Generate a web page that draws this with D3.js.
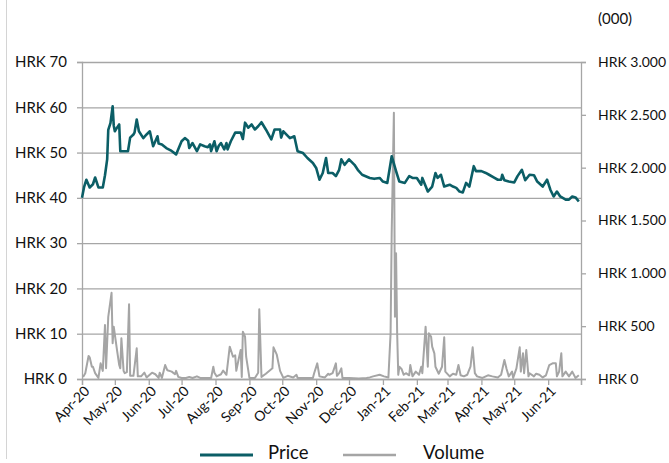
<!DOCTYPE html>
<html>
<head>
<meta charset="utf-8">
<script src="https://cdn.jsdelivr.net/npm/d3@7"></script>
<style>
  body { margin: 0; background: #fff; }
  text { font-family: Lato, "Open Sans", sans-serif; fill: #111; }
</style>
</head>
<body>
<div id="chart"></div>
<script>
// Plot constants
const WIDTH = 669;
const HEIGHT = 463;
const LEFT = 82, RIGHT = 581, TOP = 62, BOTTOM = 379;

// Axis ticks
const priceTicks = [0, 10, 20, 30, 40, 50, 60, 70];
const volumeTicks = [0, 500, 1000, 1500, 2000, 2500, 3000];
const legendLabels = ["Price", "Volume"];

// Share price, HRK
const price = [
  ["2020-04-01", 40.0], ["2020-04-03", 42.5], ["2020-04-05", 44.0], ["2020-04-08", 42.3],
  ["2020-04-11", 43.0], ["2020-04-13", 44.5], ["2020-04-16", 42.3], ["2020-04-20", 42.3],
  ["2020-04-22", 45.0], ["2020-04-24", 48.5], ["2020-04-25", 55.0], ["2020-04-27", 56.5],
  ["2020-04-29", 60.2], ["2020-04-30", 56.0], ["2020-05-01", 54.7], ["2020-05-03", 55.5],
  ["2020-05-05", 56.2], ["2020-05-06", 50.3], ["2020-05-09", 50.3], ["2020-05-13", 50.3],
  ["2020-05-15", 53.3], ["2020-05-18", 54.0], ["2020-05-19", 54.4], ["2020-05-21", 57.3],
  ["2020-05-23", 54.7], ["2020-05-27", 53.2], ["2020-05-30", 54.0], ["2020-06-02", 54.7],
  ["2020-06-05", 51.4], ["2020-06-07", 52.5], ["2020-06-09", 53.6], ["2020-06-10", 52.0],
  ["2020-06-13", 51.8], ["2020-06-17", 51.0], ["2020-06-21", 50.5], ["2020-06-26", 49.6],
  ["2020-07-01", 52.5], ["2020-07-04", 53.2], ["2020-07-07", 52.6], ["2020-07-08", 51.0],
  ["2020-07-11", 52.1], ["2020-07-15", 50.3], ["2020-07-18", 51.8], ["2020-07-22", 51.4],
  ["2020-07-25", 51.2], ["2020-07-27", 51.8], ["2020-07-28", 50.3], ["2020-07-31", 52.5],
  ["2020-08-02", 50.3], ["2020-08-04", 51.5], ["2020-08-06", 52.1], ["2020-08-09", 50.7],
  ["2020-08-11", 52.1], ["2020-08-12", 50.7], ["2020-08-15", 52.5], ["2020-08-19", 54.4],
  ["2020-08-24", 54.4], ["2020-08-26", 53.0], ["2020-08-28", 56.6], ["2020-08-31", 55.5],
  ["2020-09-03", 56.2], ["2020-09-06", 55.1], ["2020-09-09", 55.8], ["2020-09-12", 56.7],
  ["2020-09-16", 55.1], ["2020-09-21", 52.9], ["2020-09-24", 55.1], ["2020-09-29", 55.1],
  ["2020-09-30", 53.3], ["2020-10-02", 54.7], ["2020-10-08", 53.2], ["2020-10-12", 53.6],
  ["2020-10-15", 50.3], ["2020-10-20", 49.9], ["2020-10-24", 48.8], ["2020-10-29", 47.7],
  ["2020-11-01", 46.6], ["2020-11-04", 44.0], ["2020-11-07", 45.5], ["2020-11-10", 48.8],
  ["2020-11-12", 45.5], ["2020-11-16", 45.5], ["2020-11-19", 44.8], ["2020-11-22", 46.2],
  ["2020-11-24", 48.5], ["2020-11-27", 47.3], ["2020-12-01", 48.5], ["2020-12-06", 47.3],
  ["2020-12-09", 46.2], ["2020-12-13", 45.1], ["2020-12-20", 44.4], ["2020-12-24", 44.2],
  ["2020-12-29", 44.4], ["2021-01-01", 43.6], ["2021-01-05", 43.3], ["2021-01-08", 47.7],
  ["2021-01-09", 49.2], ["2021-01-13", 45.9], ["2021-01-16", 43.6], ["2021-01-21", 43.3],
  ["2021-01-25", 44.8], ["2021-01-28", 44.4], ["2021-02-01", 44.4], ["2021-02-05", 42.9],
  ["2021-02-06", 44.4], ["2021-02-11", 41.4], ["2021-02-15", 42.5], ["2021-02-18", 45.5],
  ["2021-02-20", 44.4], ["2021-02-23", 45.1], ["2021-02-26", 42.5], ["2021-03-03", 42.9],
  ["2021-03-06", 42.5], ["2021-03-09", 42.2], ["2021-03-12", 41.4], ["2021-03-15", 41.2],
  ["2021-03-18", 43.3], ["2021-03-21", 42.5], ["2021-03-25", 47.0], ["2021-03-27", 45.9],
  ["2021-04-01", 45.9], ["2021-04-05", 45.5], ["2021-04-08", 45.1], ["2021-04-13", 44.4],
  ["2021-04-16", 44.0], ["2021-04-19", 44.0], ["2021-04-20", 45.1], ["2021-04-22", 43.9],
  ["2021-04-26", 43.6], ["2021-05-01", 43.4], ["2021-05-04", 44.8], ["2021-05-08", 46.2],
  ["2021-05-11", 43.9], ["2021-05-15", 45.1], ["2021-05-19", 45.0], ["2021-05-22", 43.6],
  ["2021-05-27", 42.5], ["2021-05-31", 44.0], ["2021-06-03", 41.8], ["2021-06-06", 40.3],
  ["2021-06-09", 41.4], ["2021-06-12", 40.3], ["2021-06-17", 39.6], ["2021-06-20", 39.6],
  ["2021-06-23", 40.3], ["2021-06-26", 40.1], ["2021-06-29", 39.2]
];

// Traded volume, HRK thousands
const volume = [
  ["2020-04-02", 20], ["2020-04-04", 55], ["2020-04-07", 218], ["2020-04-08", 205],
  ["2020-04-10", 116], ["2020-04-11", 116], ["2020-04-13", 55], ["2020-04-16", 10],
  ["2020-04-18", 148], ["2020-04-20", 77], ["2020-04-22", 511], ["2020-04-23", 101],
  ["2020-04-25", 589], ["2020-04-28", 816], ["2020-04-29", 338], ["2020-04-30", 495],
  ["2020-05-03", 274], ["2020-05-05", 132], ["2020-05-06", 101], ["2020-05-07", 385],
  ["2020-05-09", 77], ["2020-05-10", 55], ["2020-05-12", 65], ["2020-05-14", 707],
  ["2020-05-15", 30], ["2020-05-18", 30], ["2020-05-21", 290], ["2020-05-22", 25],
  ["2020-05-25", 25], ["2020-05-28", 60], ["2020-05-30", 15], ["2020-06-04", 60],
  ["2020-06-07", 45], ["2020-06-10", 10], ["2020-06-11", 60], ["2020-06-13", 10],
  ["2020-06-16", 132], ["2020-06-18", 82], ["2020-06-22", 70], ["2020-06-25", 45],
  ["2020-06-26", 77], ["2020-06-28", 20], ["2020-07-01", 10], ["2020-07-05", 10],
  ["2020-07-08", 20], ["2020-07-11", 10], ["2020-07-15", 25], ["2020-07-18", 10],
  ["2020-07-28", 10], ["2020-07-30", 116], ["2020-07-31", 60], ["2020-08-02", 25],
  ["2020-08-06", 45], ["2020-08-08", 80], ["2020-08-11", 40], ["2020-08-14", 306],
  ["2020-08-17", 211], ["2020-08-19", 225], ["2020-08-20", 77], ["2020-08-22", 180],
  ["2020-08-24", 274], ["2020-08-25", 20], ["2020-08-26", 448], ["2020-08-28", 400],
  ["2020-08-29", 211], ["2020-08-31", 77], ["2020-09-01", 10], ["2020-09-06", 10],
  ["2020-09-09", 60], ["2020-09-10", 660], ["2020-09-12", 20], ["2020-09-16", 50],
  ["2020-09-22", 101], ["2020-09-23", 300], ["2020-09-26", 230], ["2020-09-29", 77],
  ["2020-10-02", 10], ["2020-10-06", 30], ["2020-10-11", 15], ["2020-10-14", 40],
  ["2020-10-15", 10], ["2020-10-29", 10], ["2020-10-30", 50], ["2020-11-02", 148],
  ["2020-11-04", 25], ["2020-11-09", 15], ["2020-11-12", 50], ["2020-11-13", 40],
  ["2020-11-16", 55], ["2020-11-19", 148], ["2020-11-20", 30], ["2020-11-22", 55],
  ["2020-11-24", 101], ["2020-11-25", 10], ["2020-12-01", 10], ["2020-12-10", 5],
  ["2020-12-17", 10], ["2020-12-20", 15], ["2020-12-23", 25], ["2020-12-29", 40],
  ["2021-01-02", 25], ["2021-01-06", 15], ["2021-01-08", 432], ["2021-01-09", 1378],
  ["2021-01-11", 2519], ["2021-01-12", 589], ["2021-01-13", 1189], ["2021-01-14", 432],
  ["2021-01-15", 40], ["2021-01-16", 116], ["2021-01-18", 95], ["2021-01-20", 40],
  ["2021-01-22", 55], ["2021-01-25", 35], ["2021-01-26", 132], ["2021-01-28", 25],
  ["2021-01-31", 70], ["2021-02-03", 40], ["2021-02-05", 116], ["2021-02-06", 55],
  ["2021-02-09", 495], ["2021-02-11", 116], ["2021-02-12", 432], ["2021-02-14", 400],
  ["2021-02-15", 306], ["2021-02-17", 243], ["2021-02-18", 116], ["2021-02-21", 50],
  ["2021-02-24", 116], ["2021-02-26", 394], ["2021-02-27", 70], ["2021-03-03", 25],
  ["2021-03-06", 50], ["2021-03-09", 40], ["2021-03-11", 132], ["2021-03-13", 35],
  ["2021-03-16", 25], ["2021-03-19", 40], ["2021-03-22", 116], ["2021-03-24", 300],
  ["2021-03-26", 55], ["2021-03-28", 25], ["2021-04-02", 10], ["2021-04-07", 35],
  ["2021-04-11", 25], ["2021-04-16", 15], ["2021-04-19", 40], ["2021-04-22", 180],
  ["2021-04-24", 95], ["2021-04-26", 25], ["2021-04-29", 70], ["2021-04-30", 10],
  ["2021-05-03", 101], ["2021-05-06", 300], ["2021-05-07", 70], ["2021-05-09", 243],
  ["2021-05-10", 55], ["2021-05-12", 274], ["2021-05-14", 25], ["2021-05-15", 55],
  ["2021-05-19", 25], ["2021-05-21", 50], ["2021-05-24", 40], ["2021-05-27", 15],
  ["2021-05-30", 35], ["2021-06-02", 132], ["2021-06-05", 148], ["2021-06-08", 148],
  ["2021-06-09", 25], ["2021-06-11", 70], ["2021-06-13", 243], ["2021-06-14", 25],
  ["2021-06-17", 70], ["2021-06-20", 25], ["2021-06-23", 70], ["2021-06-26", 10],
  ["2021-06-29", 35]
];

const PRICE_COLOR = "#0b5e66";
const VOLUME_COLOR = "#a5a5a5";
const GRID_COLOR = "#a6a6a6";

const parse = d3.timeParse("%Y-%m-%d");

const svg = d3.select("#chart")
  .append("svg")
  .attr("width", WIDTH)
  .attr("height", HEIGHT);

// faint frame line on the left
svg.append("line")
  .attr("x1", 6.5).attr("x2", 6.5)
  .attr("y1", 0).attr("y2", HEIGHT - 4)
  .attr("stroke", "#d4d4d4")
  .attr("stroke-width", 1);

// Scales
const x = d3.scaleTime()
  .domain([parse("2020-04-01"), parse("2021-07-01")])
  .range([LEFT, RIGHT]);
const yPrice = d3.scaleLinear().domain([0, 70]).range([BOTTOM, TOP]);
const yVolume = d3.scaleLinear().domain([0, 3000]).range([BOTTOM, TOP]);

// Gridlines
svg.append("g")
  .attr("transform", `translate(${LEFT},0)`)
  .call(d3.axisLeft(yPrice).tickValues(priceTicks).tickSize(-(RIGHT - LEFT)).tickFormat(""))
  .call(g => g.select(".domain").remove())
  .call(g => g.selectAll("line").attr("stroke", GRID_COLOR).attr("stroke-width", 1.3));

// Left axis
svg.append("g")
  .attr("transform", `translate(${LEFT},0)`)
  .call(d3.axisLeft(yPrice).tickValues(priceTicks).tickSize(5).tickPadding(10)
    .tickFormat(d => "HRK " + d))
  .call(g => g.select(".domain").attr("stroke", GRID_COLOR).attr("stroke-width", 1.3))
  .call(g => g.selectAll("line").attr("stroke", GRID_COLOR).attr("stroke-width", 1.3))
  .call(g => g.selectAll("text").attr("font-size", 15).attr("fill", "#111"));

// Right axis
const thousands = d => d3.format(",")(d).replace(/,/g, ".");
svg.append("g")
  .attr("transform", `translate(${RIGHT},0)`)
  .call(d3.axisRight(yVolume).tickValues(volumeTicks).tickSize(5).tickPadding(12)
    .tickFormat(d => "HRK " + thousands(d)))
  .call(g => g.select(".domain").attr("stroke", GRID_COLOR).attr("stroke-width", 1.3))
  .call(g => g.selectAll("line").attr("stroke", GRID_COLOR).attr("stroke-width", 1.3))
  .call(g => g.selectAll("text").attr("font-size", 14).attr("fill", "#111"));

svg.append("text")
  .attr("x", 598)
  .attr("y", 24)
  .attr("font-size", 15)
  .text("(000)");

// Bottom axis
const months = d3.timeMonth.range(parse("2020-04-01"), parse("2021-07-02"));
const xAxis = svg.append("g")
  .attr("transform", `translate(0,${BOTTOM})`)
  .call(d3.axisBottom(x).tickValues(months).tickSize(6)
    .tickFormat(d => d < parse("2021-07-01") ? d3.timeFormat("%b-%y")(d) : ""))
  .call(g => g.select(".domain").attr("stroke", GRID_COLOR).attr("stroke-width", 1.3))
  .call(g => g.selectAll("line").attr("stroke", GRID_COLOR).attr("stroke-width", 1.3));

xAxis.selectAll("text")
  .attr("font-size", 14)
  .attr("fill", "#111")
  .attr("text-anchor", "end")
  .attr("dy", null)
  .attr("y", 0)
  .attr("transform", "translate(8,13) rotate(-45)");

// Lines
const volumeLine = d3.line()
  .x(d => x(parse(d[0])))
  .y(d => yVolume(d[1]));
const priceLine = d3.line()
  .x(d => x(parse(d[0])))
  .y(d => yPrice(d[1]));

svg.append("path")
  .datum(volume)
  .attr("fill", "none")
  .attr("stroke", VOLUME_COLOR)
  .attr("stroke-width", 2)
  .attr("stroke-linejoin", "round")
  .attr("d", volumeLine);

svg.append("path")
  .datum(price)
  .attr("fill", "none")
  .attr("stroke", PRICE_COLOR)
  .attr("stroke-width", 2.6)
  .attr("stroke-linejoin", "round")
  .attr("d", priceLine);

// Legend
const legend = svg.append("g");
const legendItems = [
  {label: legendLabels[0], color: PRICE_COLOR, width: 2.6, x: 200, tx: 268},
  {label: legendLabels[1], color: VOLUME_COLOR, width: 2, x: 343, tx: 423}
];
legendItems.forEach(item => {
  legend.append("line")
    .attr("x1", item.x).attr("x2", item.x + 53)
    .attr("y1", 455).attr("y2", 455)
    .attr("stroke", item.color)
    .attr("stroke-width", item.width + 0.6);
  legend.append("text")
    .attr("x", item.tx)
    .attr("y", 459)
    .attr("font-size", 18.5)
    .text(item.label);
});
</script>
</body>
</html>
